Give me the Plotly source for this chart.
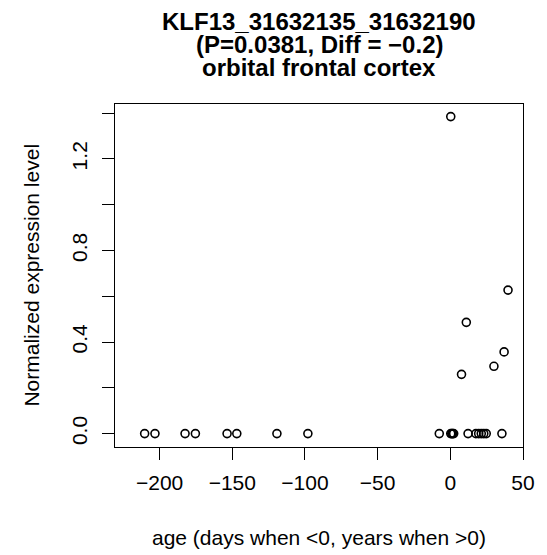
import plotly.graph_objects as go

# Data
age = [-210.3, -203.2, -182.5, -175.4, -153.6, -146.9, -119.3, -98.0,
       -7.6, 0.3, 1.0, 1.6, 2.3, 12.2, 17.6, 19.5, 21.3, 23.0, 24.7, 35.5,
       0.3, 39.7, 11.0, 37.0, 30.0, 7.7]
expr = [0.0, 0.0, 0.0, 0.0, 0.0, 0.0, 0.0, 0.0,
        0.0, 0.0, 0.0, 0.0, 0.0, 0.0, 0.0, 0.0, 0.0, 0.0, 0.0, 0.0,
        1.385, 0.627, 0.486, 0.357, 0.294, 0.259]

x_tickvals = [-200, -150, -100, -50, 0, 50]
x_ticktext = ["\u2212200", "\u2212150", "\u2212100", "\u221250", "0", "50"]
y_tickvals = [0.0, 0.2, 0.4, 0.6, 0.8, 1.0, 1.2, 1.4]
y_ticktext = ["0.0", "", "0.4", "", "0.8", "", "1.2", ""]

title_lines = ["KLF13_31632135_31632190", "(P=0.0381, Diff = \u22120.2)", "orbital frontal cortex"]
x_label = "age (days when <0, years when >0)"
y_label = "Normalized expression level"

FONT = "Liberation Sans, Arial, Helvetica, sans-serif"

fig = go.Figure()
fig.add_trace(go.Scatter(
    x=age, y=expr, mode="markers",
    marker=dict(symbol="circle-open", size=8, color="black", line=dict(width=1.6, color="black")),
    showlegend=False, hoverinfo="skip",
))

# The page body has an 8px default margin; size the figure so the plot box
# lands at page pixels left=115, top=104, right=533, bottom=447.
OFF = 8
W, H = 547 - OFF, 555 - OFF
L, R, T, B = 115 - OFF, 14, 104 - OFF, 108
BOX_L, BOX_R, BOX_T, BOX_B = 115, 533, 104, 447

def py(page_y):
    return (BOX_B - page_y) / (BOX_B - BOX_T)

def px(page_x):
    return (page_x - BOX_L) / (BOX_R - BOX_L)

annotations = []
for txt, yc in zip(title_lines, [21.3, 44.7, 67.7]):
    annotations.append(dict(text="<b>%s</b>" % txt, x=0.5, xref="paper", y=py(yc), yref="paper",
                            xanchor="center", yanchor="middle", showarrow=False,
                            font=dict(family=FONT, size=24, color="black")))
annotations.append(dict(text=x_label, x=0.5, xref="paper", y=py(537), yref="paper",
                        xanchor="center", yanchor="middle", showarrow=False,
                        font=dict(family=FONT, size=21, color="black")))
annotations.append(dict(text=y_label, x=px(29), xref="paper", y=0.5, yref="paper",
                        xanchor="center", yanchor="middle", showarrow=False, textangle=-90,
                        font=dict(family=FONT, size=21, color="black")))

fig.update_layout(
    width=W, height=H,
    margin=dict(l=L, r=R, t=T, b=B, pad=0),
    paper_bgcolor="white", plot_bgcolor="white",
    font=dict(family=FONT, size=21, color="black"),
    annotations=annotations,
    xaxis=dict(range=[-230.7, 50], tickmode="array", tickvals=x_tickvals, ticktext=x_ticktext,
               ticks="outside", ticklen=12, tickwidth=1.3, tickcolor="black",
               showline=True, linecolor="black", linewidth=1.3, mirror=True,
               showgrid=False, zeroline=False, ticklabelstandoff=5,
               tickfont=dict(family=FONT, size=21, color="black")),
    yaxis=dict(range=[-0.0585, 1.44], tickmode="array", tickvals=y_tickvals, ticktext=y_ticktext,
               ticks="outside", ticklen=12, tickwidth=1.3, tickcolor="black",
               showline=True, linecolor="black", linewidth=1.3, mirror=True,
               showgrid=False, zeroline=False, tickangle=-90, ticklabelstandoff=6,
               tickfont=dict(family=FONT, size=21, color="black")),
)

fig.write_html("out.html")
